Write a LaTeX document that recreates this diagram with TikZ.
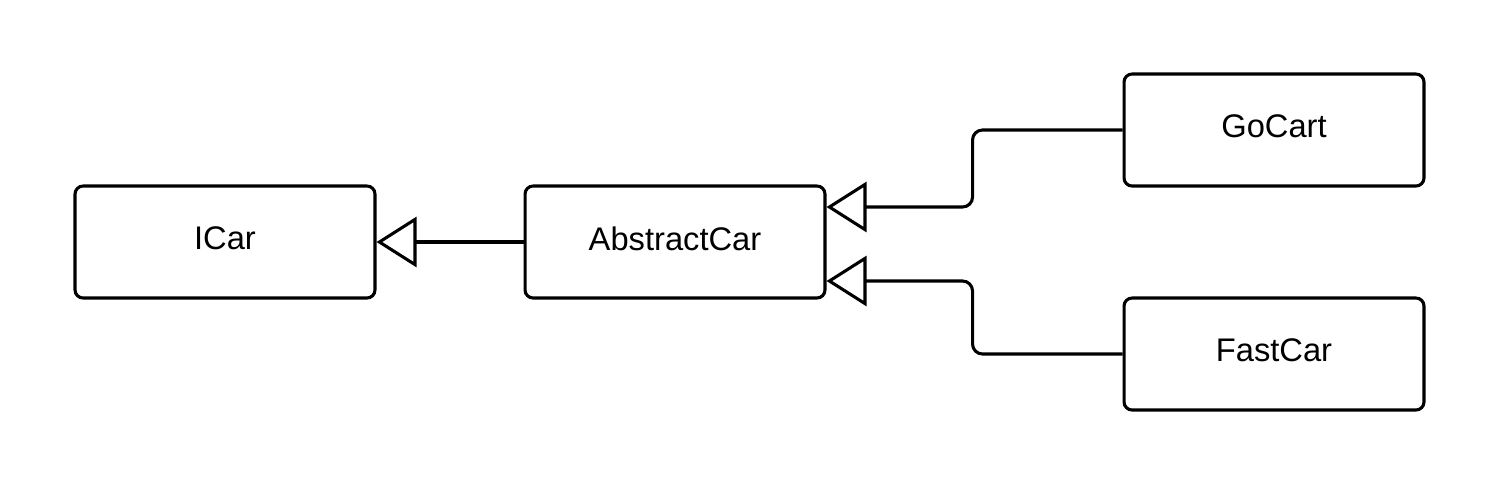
\documentclass[tikz,border=0pt]{standalone}
\usepackage{fontspec}
\setmainfont{Liberation Sans}
\usetikzlibrary{arrows.meta}
\begin{document}
\begin{tikzpicture}[x=0.02cm,y=-0.02cm,
  cls/.style={draw=black, line width=1.75pt, rounded corners=0.16cm, fill=white,
    minimum width=6cm, minimum height=2.24cm, inner sep=0pt, text depth=4pt,
    font=\fontsize{18.6}{22}\selectfont},
  inh/.style={draw=black, line width=1.75pt, rounded corners=0.2cm,
    -{Triangle[open, length=0.8cm, width=1cm, fill=white]}}]
\useasboundingbox[fill=white] (0,0) rectangle (1500,488);
\node[cls] (icar) at (225,242) {ICar};
\node[cls] (abs) at (675,242) {AbstractCar};
\node[cls] (go) at (1274,130) {GoCart};
\node[cls] (fast) at (1274,354) {FastCar};
\draw[inh] (abs.west) -- (icar.east);
\draw[inh] (go.west) -- ([xshift=-3cm]go.west) |- ([yshift=0.7cm]abs.east);
\draw[inh] (fast.west) -- ([xshift=-3cm]fast.west) |- ([yshift=-0.78cm]abs.east);
\end{tikzpicture}
\end{document}
